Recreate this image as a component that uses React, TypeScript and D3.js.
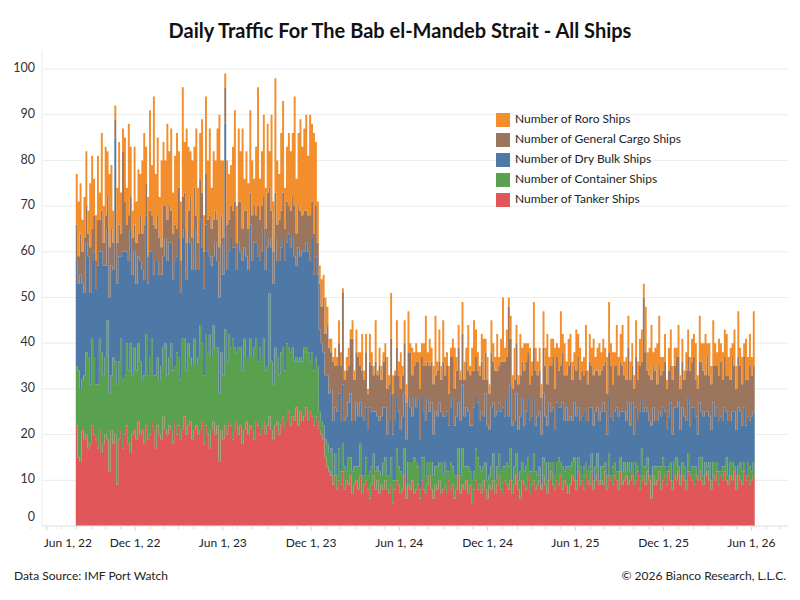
import React from "react";
import * as d3 from "d3";

const WIDTH = 800;
const HEIGHT = 600;
const PLOT = { left: 42, right: 788, top: 50, bottom: 526 };

// one value every 4 days, first bar starts Jul 31, 2022
const START = new Date(2022, 6, 31);
const STEP_DAYS = 4;

const tanker = [
  22, 15, 14, 21, 19, 20, 17, 18, 22, 20, 19, 17, 21, 16, 18, 20,
  19, 12, 21, 18, 20, 9, 19, 21, 17, 20, 22, 18, 16, 20, 21, 19,
  23, 20, 21, 18, 22, 19, 20, 23, 21, 17, 22, 20, 19, 24, 21, 20,
  22, 21, 18, 23, 20, 22, 19, 21, 24, 20, 22, 23, 19, 21, 22, 20,
  21, 23, 18, 22, 20, 17, 21, 23, 20, 22, 14, 21, 19, 22, 20, 23,
  22, 19, 21, 23, 20, 22, 18, 21, 23, 20, 22, 21, 19, 23, 22, 20,
  21, 23, 20, 22, 24, 21, 19, 22, 23, 20, 22, 24, 21, 23, 25, 22,
  24, 23, 26, 22, 25, 23, 24, 26, 23, 25, 24, 22, 24, 23, 21, 20,
  19, 15, 13, 12, 11, 9, 11, 8, 10, 9, 12, 8, 10, 9, 11, 7,
  9, 10, 8, 11, 7, 9, 10, 8, 6, 9, 11, 8, 10, 7, 9, 8,
  10, 8, 7, 9, 5, 8, 10, 9, 7, 8, 11, 6, 9, 8, 10, 7,
  8, 9, 6, 10, 8, 7, 9, 11, 8, 6, 9, 8, 10, 7, 8, 9,
  7, 10, 8, 9, 6, 8, 11, 7, 9, 8, 10, 7, 9, 5, 8, 10,
  8, 9, 7, 10, 8, 6, 9, 8, 10, 7, 9, 11, 8, 7, 10, 9,
  8, 10, 7, 9, 11, 8, 6, 10, 9, 8, 11, 7, 9, 10, 8, 9,
  10, 8, 11, 9, 7, 10, 12, 9, 8, 10, 9, 11, 8, 10, 9, 7,
  9, 11, 10, 8, 12, 9, 10, 8, 11, 10, 9, 12, 8, 10, 11, 9,
  10, 9, 12, 8, 11, 10, 9, 11, 10, 8, 12, 9, 10, 11, 9, 10,
  11, 9, 10, 12, 8, 10, 11, 9, 12, 10, 6, 11, 9, 10, 12, 8,
  10, 11, 9, 12, 10, 8, 11, 10, 12, 9, 11, 10, 8, 12, 11, 10,
  9, 11, 10, 12, 10, 9, 11, 12, 10, 8, 11, 10, 12, 9, 11, 10,
  12, 10, 9, 11, 10, 12, 8, 11, 10, 9, 12, 10, 11, 9, 10, 11,
];

const container = [
  13, 19, 16, 11, 14, 18, 20, 13, 19, 17, 12, 14, 20, 22, 15, 17,
  26, 17, 12, 19, 16, 22, 17, 20, 15, 13, 18, 16, 24, 13, 18, 15,
  17, 16, 11, 15, 20, 14, 17, 18, 12, 16, 15, 12, 16, 15, 19, 13,
  15, 19, 16, 12, 18, 15, 13, 20, 17, 14, 18, 14, 16, 20, 13, 17,
  23, 17, 15, 20, 18, 25, 16, 21, 19, 17, 15, 17, 14, 21, 16, 19,
  17, 22, 18, 15, 19, 17, 16, 20, 14, 17, 19, 16, 20, 18, 14, 19,
  16, 18, 14, 13, 27, 15, 12, 17, 14, 13, 16, 15, 13, 17, 14, 16,
  15, 13, 11, 14, 12, 13, 15, 13, 15, 11, 14, 12, 13, 12, 4, 3,
  3, 4, 5, 4, 6, 2, 5, 3, 7, 3, 6, 5, 2, 6, 4, 5,
  4, 3, 5, 7, 4, 2, 5, 3, 6, 4, 5, 4, 3, 5, 2, 6,
  5, 3, 4, 6, 5, 2, 7, 4, 5, 3, 6, 3, 5, 6, 4, 8,
  6, 4, 2, 5, 7, 4, 5, 3, 6, 5, 4, 5, 4, 7, 3, 5,
  5, 2, 6, 4, 5, 3, 6, 4, 8, 5, 3, 6, 3, 5, 4, 7,
  7, 4, 5, 3, 6, 4, 2, 5, 6, 3, 4, 5, 4, 6, 3, 5,
  5, 7, 3, 4, 5, 2, 6, 4, 3, 5, 4, 5, 3, 6, 4, 2,
  3, 1, 4, 5, 3, 4, 2, 5, 3, 4, 6, 3, 5, 2, 4, 6,
  4, 3, 5, 2, 3, 4, 1, 5, 3, 2, 4, 4, 2, 3, 5, 1,
  3, 4, 2, 3, 5, 1, 4, 3, 2, 4, 3, 3, 4, 1, 5, 2,
  3, 2, 4, 1, 3, 7, 2, 4, 3, 1, 5, 2, 4, 3, 1, 5,
  5, 2, 3, 1, 4, 2, 3, 5, 1, 2, 3, 3, 2, 4, 1, 3,
  4, 2, 1, 3, 5, 2, 3, 1, 4, 2, 3, 4, 2, 3, 1, 3,
  1, 5, 2, 3, 4, 1, 3, 2, 4, 3, 2, 1, 3, 4, 2, 3,
];

const dryBulk = [
  23, 19, 25, 21, 18, 24, 22, 20, 17, 23, 21, 26, 19, 22, 24, 20,
  20, 21, 24, 19, 49, 22, 23, 18, 28, 27, 20, 24, 25, 22, 21, 19,
  19, 22, 24, 21, 26, 20, 23, 19, 22, 25, 21, 23, 20, 20, 23, 25,
  25, 22, 20, 23, 21, 26, 19, 22, 24, 20, 23, 25, 21, 24, 21, 19,
  23, 21, 19, 24, 22, 17, 20, 15, 23, 19, 21, 24, 22, 45, 20, 18,
  24, 20, 22, 18, 23, 21, 24, 20, 22, 19, 25, 21, 23, 21, 23, 19,
  23, 24, 22, 26, 12, 25, 22, 24, 21, 25, 23, 24, 24, 22, 25, 23,
  24, 23, 20, 25, 22, 24, 21, 23, 22, 22, 25, 21, 22, 20, 18, 17,
  16, 14, 15, 13, 13, 12, 10, 14, 12, 11, 13, 10, 12, 12, 14, 11,
  10, 14, 11, 9, 13, 12, 11, 10, 14, 12, 9, 13, 11, 11, 13, 12,
  11, 9, 12, 14, 10, 13, 11, 12, 9, 13, 12, 10, 14, 12, 10, 13,
  12, 15, 11, 13, 10, 12, 14, 11, 13, 9, 12, 11, 13, 11, 13, 10,
  13, 10, 12, 15, 11, 13, 10, 12, 14, 11, 13, 12, 10, 12, 14, 11,
  12, 10, 13, 11, 15, 12, 10, 13, 11, 14, 12, 11, 13, 13, 11, 14,
  11, 14, 12, 10, 13, 11, 12, 14, 10, 12, 13, 11, 12, 12, 10, 13,
  12, 11, 14, 10, 12, 13, 11, 12, 10, 13, 11, 12, 14, 11, 13, 10,
  11, 9, 12, 14, 11, 10, 13, 12, 9, 11, 13, 10, 12, 12, 10, 13,
  12, 14, 11, 9, 12, 13, 10, 11, 14, 12, 10, 13, 11, 11, 13, 10,
  13, 9, 12, 10, 14, 11, 12, 13, 10, 12, 11, 13, 10, 10, 12, 11,
  11, 12, 9, 11, 13, 10, 12, 11, 14, 10, 12, 11, 13, 12, 10, 13,
  13, 11, 9, 12, 10, 13, 11, 12, 10, 11, 13, 10, 12, 11, 12, 10,
  13, 10, 12, 9, 11, 12, 10, 13, 11, 10, 12, 11, 10, 10, 12, 11,
];

const generalCargo = [
  8, 6, 9, 7, 12, 8, 5, 10, 7, 8, 6, 10, 7, 9, 5, 11,
  7, 11, 8, 6, 4, 9, 7, 5, 22, 11, 6, 10, 7, 8, 6, 9,
  5, 10, 8, 12, 7, 6, 9, 8, 11, 7, 10, 8, 6, 11, 7, 9,
  8, 7, 10, 8, 6, 11, 7, 9, 8, 8, 6, 10, 7, 9, 12, 6,
  9, 12, 8, 11, 7, 9, 8, 8, 7, 9, 11, 6, 8, 8, 10, 7,
  7, 8, 10, 6, 9, 11, 7, 8, 10, 9, 7, 10, 8, 6, 11, 9,
  10, 7, 9, 12, 11, 8, 7, 10, 8, 9, 8, 10, 7, 9, 6, 8,
  9, 11, 7, 9, 10, 8, 9, 7, 8, 10, 8, 9, 11, 7, 10, 8,
  12, 9, 11, 10, 8, 13, 9, 10, 11, 12, 20, 9, 10, 8, 12, 18,
  9, 11, 13, 8, 10, 9, 12, 8, 10, 10, 8, 11, 9, 12, 8, 10,
  11, 10, 8, 12, 9, 10, 11, 8, 9, 9, 11, 8, 10, 12, 9, 7,
  10, 8, 11, 9, 10, 12, 8, 10, 9, 11, 8, 10, 9, 7, 12, 9,
  10, 7, 11, 9, 8, 10, 12, 9, 11, 8, 10, 9, 11, 12, 8, 9,
  7, 10, 11, 8, 9, 10, 8, 12, 9, 10, 9, 8, 11, 10, 12, 9,
  24, 10, 8, 9, 11, 10, 9, 8, 12, 11, 10, 8, 9, 11, 12, 9,
  9, 8, 10, 11, 9, 8, 10, 11, 9, 10, 8, 9, 11, 10, 7, 12,
  12, 9, 8, 10, 11, 9, 10, 8, 11, 8, 10, 9, 11, 9, 8, 10,
  9, 8, 11, 9, 10, 11, 8, 10, 9, 9, 11, 10, 8, 9, 12, 10,
  8, 10, 11, 9, 10, 8, 25, 12, 9, 10, 10, 9, 11, 8, 10, 9,
  8, 11, 9, 10, 8, 12, 9, 11, 10, 9, 10, 8, 11, 9, 12, 10,
  11, 8, 10, 9, 11, 10, 8, 12, 9, 10, 8, 11, 9, 10, 12, 9,
  11, 8, 10, 9, 12, 10, 9, 11, 10, 9, 11, 10, 8, 12, 9, 10,
];

const roro = [
  11, 12, 11, 7, 9, 12, 5, 14, 16, 8, 10, 14, 6, 17, 8, 15,
  10, 16, 14, 7, 3, 12, 18, 9, 5, 14, 8, 20, 11, 6, 17, 9,
  14, 9, 16, 20, 8, 13, 22, 11, 28, 12, 17, 9, 19, 14, 10, 21,
  12, 18, 9, 15, 21, 8, 13, 24, 11, 25, 14, 10, 17, 9, 19, 12,
  10, 16, 8, 17, 13, 19, 9, 15, 11, 20, 29, 12, 17, 3, 14, 10,
  9, 14, 20, 8, 16, 11, 22, 7, 13, 10, 18, 12, 6, 15, 26, 9,
  12, 18, 9, 15, 8, 21, 11, 25, 14, 10, 17, 20, 9, 12, 16, 13,
  14, 24, 12, 16, 20, 15, 18, 21, 13, 22, 17, 22, 14, 9, 4, 6,
  5, 8, 4, 2, 3, 1, 4, 2, 5, 3, 1, 2, 3, 4, 2, 4,
  2, 5, 1, 3, 8, 2, 4, 1, 6, 3, 2, 9, 1, 4, 3, 2,
  3, 7, 2, 10, 4, 1, 6, 3, 8, 2, 5, 4, 9, 2, 6, 3,
  4, 2, 8, 3, 5, 11, 2, 6, 3, 4, 13, 2, 7, 3, 9, 4,
  3, 6, 2, 4, 9, 3, 5, 2, 7, 4, 3, 10, 2, 5, 11, 6,
  4, 2, 6, 9, 3, 5, 2, 7, 4, 3, 8, 2, 5, 14, 3, 6,
  2, 5, 3, 7, 4, 2, 9, 3, 6, 4, 2, 8, 3, 10, 5, 3,
  5, 3, 8, 4, 11, 2, 6, 4, 9, 3, 5, 12, 4, 7, 3, 6,
  6, 4, 3, 9, 5, 7, 2, 4, 10, 3, 6, 4, 8, 3, 5, 7,
  4, 6, 3, 8, 11, 5, 7, 3, 9, 4, 6, 9, 3, 5, 7, 4,
  5, 3, 8, 4, 6, 7, 3, 10, 4, 6, 12, 3, 5, 9, 11, 4,
  3, 6, 2, 5, 8, 3, 4, 2, 7, 3, 5, 2, 4, 6, 3, 5,
  5, 8, 3, 10, 4, 6, 9, 3, 7, 4, 10, 5, 3, 8, 4, 6,
  6, 9, 4, 7, 3, 8, 5, 10, 4, 6, 3, 9, 5, 7, 4, 12,
];

// bottom to top
const SERIES = [
  { key: "tanker", label: "Number of Tanker Ships", color: "#e15759", values: tanker },
  { key: "container", label: "Number of Container Ships", color: "#59a14f", values: container },
  { key: "dryBulk", label: "Number of Dry Bulk Ships", color: "#4e79a7", values: dryBulk },
  { key: "generalCargo", label: "Number of General Cargo Ships", color: "#9c755f", values: generalCargo },
  { key: "roro", label: "Number of Roro Ships", color: "#f28e2b", values: roro },
];

const yTicks = [0, 10, 20, 30, 40, 50, 60, 70, 80, 90, 100];

const FONT = "Lato, 'Open Sans', sans-serif";

const App = () => {
  const dates = tanker.map((_, i) => d3.timeDay.offset(START, i * STEP_DAYS));
  const endDate = d3.timeDay.offset(dates[dates.length - 1], STEP_DAYS);

  const xScale = d3
    .scaleTime()
    .domain([new Date(2022, 4, 22), new Date(2026, 7, 16)])
    .range([PLOT.left, PLOT.right]);

  const yScale = d3.scaleLinear().domain([0, 100]).range([PLOT.bottom, 69]);

  const rows = dates.map((date, i) => {
    const row: any = { date };
    SERIES.forEach((s) => (row[s.key] = s.values[i]));
    return row;
  });

  const stacked = d3.stack<any>().keys(SERIES.map((s) => s.key))(rows);

  const area = d3
    .area<{ x: Date; y0: number; y1: number }>()
    .x((p) => xScale(p.x))
    .y0((p) => yScale(p.y0))
    .y1((p) => yScale(p.y1))
    .curve(d3.curveStepAfter);

  const layers = stacked.map((layer, li) => {
    const pts = layer.map((p, i) => ({ x: dates[i], y0: p[0], y1: p[1] }));
    const last = pts[pts.length - 1];
    pts.push({ x: endDate, y0: last.y0, y1: last.y1 });
    return <path key={li} d={area(pts) ?? ""} fill={SERIES[li].color} />;
  });

  const months = d3.timeMonth.range(new Date(2022, 4, 1), new Date(2026, 7, 16));
  const majorTicks = months.filter((m) => m.getMonth() === 5 || m.getMonth() === 11);
  const fmt = d3.timeFormat("%b %-d, %y");

  const legendItems = [...SERIES].reverse();

  return (
    <div style={{ position: "absolute", left: 0, top: 0 }}>
      <svg width={WIDTH} height={HEIGHT} style={{ display: "block", fontFamily: FONT }}>
        <rect width={WIDTH} height={HEIGHT} fill="#ffffff" />

        <text x={400} y={38} textAnchor="middle" fontSize={20} fontWeight={700} fill="#111">
          Daily Traffic For The Bab el-Mandeb Strait - All Ships
        </text>

        {/* grid */}
        {yTicks.map((t) => (
          <line
            key={t}
            x1={PLOT.left}
            x2={PLOT.right}
            y1={yScale(t)}
            y2={yScale(t)}
            stroke="#ececec"
            strokeWidth={1}
          />
        ))}
        <line x1={PLOT.left} x2={PLOT.left} y1={PLOT.top} y2={PLOT.bottom} stroke="#ececec" />

        {layers}

        {/* x axis */}
        <line x1={PLOT.left} x2={PLOT.right} y1={PLOT.bottom} y2={PLOT.bottom} stroke="#e6e6e6" />
        {months.map((m, i) => {
          const major = m.getMonth() === 5 || m.getMonth() === 11;
          return (
            <line
              key={i}
              x1={xScale(m)}
              x2={xScale(m)}
              y1={PLOT.bottom + 1}
              y2={PLOT.bottom + (major ? 5 : 3)}
              stroke="#d6d6d6"
            />
          );
        })}
        {majorTicks.map((m, i) => (
          <text
            key={i}
            x={i === 0 ? xScale(m) - 3 : xScale(m)}
            y={547}
            textAnchor={i === 0 ? "start" : "middle"}
            fontSize={12}
            fill="#222"
          >
            {fmt(m)}
          </text>
        ))}

        {/* y labels */}
        {yTicks.map((t) => (
          <text
            key={t}
            x={35}
            y={t === 0 ? yScale(t) - 8 : yScale(t)}
            textAnchor="end"
            dominantBaseline="middle"
            fontSize={12.5}
            fill="#333"
          >
            {t}
          </text>
        ))}

        {/* legend */}
        {legendItems.map((s, i) => (
          <g key={s.key} transform={`translate(496, ${113 + i * 20})`}>
            <rect width={14} height={14} fill={s.color} />
            <text x={19} y={7} dominantBaseline="middle" fontSize={12} fill="#222">
              {s.label}
            </text>
          </g>
        ))}

        <text x={14} y={580} fontSize={12} fill="#222">
          Data Source: IMF Port Watch
        </text>
        <text x={786} y={580} textAnchor="end" fontSize={12} fill="#222">
          © 2026 Bianco Research, L.L.C.
        </text>
      </svg>
    </div>
  );
};

export default App;
